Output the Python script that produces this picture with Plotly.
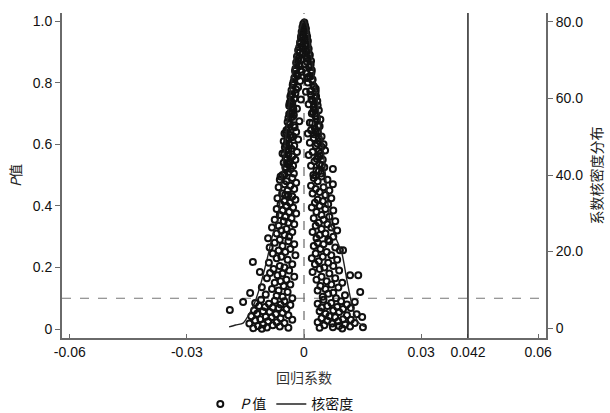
import plotly.graph_objects as go

# ---- scatter: regression coefficient vs P value ----
coef = [
    # P 0.92-1.0
    0.0001, -0.0002, 0.0003, -0.0004, 0.0005, 0.0000, -0.0006, 0.0006, -0.0003, 0.0008,
    -0.0008, 0.0002, 0.0010, -0.0010, 0.0004, -0.0005, 0.0002, -0.0001, 0.0007, -0.0007,
    # P 0.80-0.92
    -0.0012, 0.0012, -0.0015, 0.0007, -0.0003, 0.0015, -0.0018, 0.0009, -0.0008, 0.0018,
    -0.0020, 0.0003, -0.0013, 0.0013, -0.0022, 0.0020, -0.0006, 0.0006, -0.0017, 0.0016,
    -0.0025, 0.0022, -0.0010, 0.0010, -0.0016, 0.0004, -0.0009, 0.0017, -0.0021, 0.0011,
    # P 0.65-0.80
    -0.0028, 0.0024, -0.0015, 0.0030, -0.0032, 0.0005, -0.0022, 0.0018, -0.0035, 0.0028,
    -0.0008, 0.0034, -0.0030, 0.0012, -0.0038, 0.0025, -0.0018, 0.0038, -0.0033, 0.0020,
    -0.0026, 0.0032, -0.0040, 0.0042, -0.0012, 0.0015, -0.0036, 0.0036, -0.0024, 0.0028,
    -0.0030, -0.0034, -0.0028, 0.0030, 0.0026, -0.0031, 0.0023, -0.0027, -0.0037, 0.0019,
    # P 0.50-0.65 left
    -0.0045, -0.0020, -0.0050, -0.0035, -0.0028, -0.0042, -0.0015, -0.0052, -0.0038, -0.0025,
    -0.0049, -0.0032, -0.0044, -0.0018, -0.0055, -0.0040, -0.0030, -0.0047, -0.0022, -0.0036,
    -0.0052, -0.0042, -0.0028, -0.0048, -0.0034, -0.0040, -0.0026, -0.0055,
    # P 0.50-0.65 right
    0.0018, 0.0035, 0.0010, 0.0045, 0.0025, 0.0040, 0.0015, 0.0050, 0.0030, 0.0054,
    0.0022, 0.0042, 0.0012, 0.0036, 0.0048, 0.0027, 0.0040, 0.0018, 0.0052, 0.0074,
    0.0032, 0.0044, 0.0024,
    # P 0.29-0.50 left
    -0.0060, -0.0030, -0.0062, -0.0045, -0.0020, -0.0050, -0.0035, -0.0065, -0.0025, -0.0042,
    -0.0056, -0.0048, -0.0040, -0.0030, -0.0068, -0.0022, -0.0050, -0.0036, -0.0060, -0.0045,
    -0.0028, -0.0070, -0.0055, -0.0038, -0.0020, -0.0062, -0.0048, -0.0032, -0.0075, -0.0052,
    -0.0040, -0.0025, -0.0065, -0.0082, -0.0045, -0.0058, -0.0030, -0.0070, -0.0050, -0.0038,
    -0.0092, -0.0062,
    # P 0.29-0.50 right
    0.0045, 0.0025, 0.0060, 0.0035, 0.0074, 0.0018, 0.0050, 0.0030, 0.0065, 0.0040,
    0.0022, 0.0055, 0.0070, 0.0035, 0.0048, 0.0028, 0.0062, 0.0040, 0.0020, 0.0055,
    0.0075, 0.0032, 0.0045, 0.0065, 0.0025, 0.0050, 0.0080, 0.0038, 0.0060, 0.0030,
    0.0070, 0.0045, 0.0085, 0.0022, 0.0055, 0.0040, 0.0075, 0.0032, 0.0062,
    # P 0.10-0.29 left
    -0.0040, -0.0075, -0.0025, -0.0055, -0.0088, -0.0035, -0.0065, -0.0048, -0.0080, -0.0022,
    -0.0058, -0.0070, -0.0042, -0.0131, -0.0090, -0.0030, -0.0062, -0.0050, -0.0078, -0.0038,
    -0.0113, -0.0087, -0.0055, -0.0068, -0.0025, -0.0095, -0.0045, -0.0060, -0.0075, -0.0035,
    -0.0052, -0.0108, -0.0082, -0.0065, -0.0042, -0.0138, -0.0098, -0.0070, -0.0055, -0.0030,
    # P 0.10-0.29 right
    0.0065, 0.0035, 0.0050, 0.0025, 0.0080, 0.0042, 0.0100, 0.0092, 0.0058, 0.0030,
    0.0070, 0.0048, 0.0020, 0.0085, 0.0038, 0.0062, 0.0028, 0.0075, 0.0052, 0.0040,
    0.0090, 0.0022, 0.0065, 0.0118, 0.0139, 0.0045, 0.0080, 0.0032, 0.0058, 0.0098,
    0.0070, 0.0042, 0.0088, 0.0055, 0.0035, 0.0144, 0.0075, 0.0062, 0.0105, 0.0048,
    0.0082,
    # P 0.00-0.10 left
    -0.0156, -0.0110, -0.0075, -0.0050, -0.0125, -0.0090, -0.0060, -0.0035, -0.0115, -0.0100,
    -0.0080, -0.0065, -0.0045, -0.0190, -0.0128, -0.0105, -0.0088, -0.0055, -0.0120, -0.0072,
    -0.0040, -0.0135, -0.0098, -0.0083, -0.0060, -0.0112, -0.0030, -0.0125, -0.0092, -0.0070,
    -0.0050, -0.0140, -0.0105, -0.0080, -0.0118, -0.0062, -0.0095, -0.0040, -0.0130, -0.0108,
    # P 0.00-0.10 right
    0.0050, 0.0130, 0.0095, 0.0070, 0.0035, 0.0110, 0.0060, 0.0085, 0.0045, 0.0120,
    0.0100, 0.0075, 0.0040, 0.0090, 0.0055, 0.0135, 0.0110, 0.0065, 0.0149, 0.0080,
    0.0045, 0.0100, 0.0120, 0.0060, 0.0088, 0.0035, 0.0130, 0.0072, 0.0105, 0.0052,
    0.0090, 0.0118, 0.0074, 0.0151, 0.0040, 0.0098,
]

p_value = [
    # P 0.92-1.0
    0.995, 0.990, 0.985, 0.980, 0.975, 0.970, 0.965, 0.960, 0.955, 0.950,
    0.945, 0.940, 0.935, 0.930, 0.925, 0.920, 0.978, 0.962, 0.942, 0.952,
    # P 0.80-0.92
    0.915, 0.910, 0.905, 0.900, 0.895, 0.890, 0.885, 0.880, 0.875, 0.870,
    0.865, 0.860, 0.855, 0.850, 0.845, 0.840, 0.835, 0.830, 0.825, 0.820,
    0.815, 0.810, 0.805, 0.800, 0.872, 0.888, 0.842, 0.858, 0.828, 0.818,
    # P 0.65-0.80
    0.795, 0.790, 0.785, 0.780, 0.775, 0.770, 0.765, 0.760, 0.755, 0.750,
    0.745, 0.740, 0.735, 0.730, 0.725, 0.720, 0.715, 0.710, 0.705, 0.700,
    0.695, 0.690, 0.685, 0.680, 0.675, 0.670, 0.665, 0.660, 0.655, 0.650,
    0.760, 0.740, 0.720, 0.770, 0.730, 0.700, 0.705, 0.712, 0.732, 0.745,
    # P 0.50-0.65 left
    0.645, 0.640, 0.635, 0.630, 0.625, 0.620, 0.615, 0.610, 0.600, 0.595,
    0.590, 0.585, 0.580, 0.575, 0.570, 0.565, 0.560, 0.555, 0.550, 0.545,
    0.540, 0.535, 0.530, 0.525, 0.520, 0.510, 0.505, 0.500,
    # P 0.50-0.65 right
    0.645, 0.640, 0.635, 0.625, 0.620, 0.610, 0.605, 0.600, 0.595, 0.580,
    0.575, 0.570, 0.565, 0.560, 0.550, 0.545, 0.535, 0.530, 0.525, 0.520,
    0.515, 0.505, 0.500,
    # P 0.29-0.50 left
    0.495, 0.490, 0.485, 0.480, 0.475, 0.470, 0.465, 0.460, 0.455, 0.450,
    0.440, 0.435, 0.435, 0.430, 0.425, 0.420, 0.415, 0.410, 0.405, 0.400,
    0.395, 0.390, 0.385, 0.380, 0.375, 0.370, 0.365, 0.360, 0.355, 0.350,
    0.345, 0.340, 0.335, 0.330, 0.325, 0.320, 0.315, 0.310, 0.305, 0.300,
    0.295, 0.290,
    # P 0.29-0.50 right
    0.495, 0.490, 0.485, 0.480, 0.470, 0.465, 0.460, 0.455, 0.450, 0.445,
    0.440, 0.435, 0.425, 0.420, 0.415, 0.410, 0.405, 0.400, 0.395, 0.390,
    0.385, 0.380, 0.370, 0.365, 0.360, 0.355, 0.350, 0.345, 0.340, 0.335,
    0.330, 0.325, 0.320, 0.315, 0.310, 0.305, 0.300, 0.295, 0.290,
    # P 0.10-0.29 left
    0.285, 0.280, 0.275, 0.270, 0.265, 0.260, 0.255, 0.250, 0.245, 0.240,
    0.235, 0.230, 0.225, 0.218, 0.215, 0.210, 0.205, 0.200, 0.195, 0.190,
    0.185, 0.182, 0.180, 0.175, 0.170, 0.165, 0.160, 0.155, 0.150, 0.145,
    0.140, 0.136, 0.130, 0.125, 0.120, 0.117, 0.112, 0.108, 0.105, 0.100,
    # P 0.10-0.29 right
    0.285, 0.280, 0.275, 0.270, 0.265, 0.260, 0.256, 0.256, 0.250, 0.245,
    0.240, 0.235, 0.230, 0.225, 0.220, 0.215, 0.210, 0.205, 0.200, 0.195,
    0.190, 0.185, 0.180, 0.175, 0.175, 0.170, 0.165, 0.160, 0.155, 0.150,
    0.145, 0.140, 0.135, 0.130, 0.125, 0.120, 0.118, 0.115, 0.110, 0.105,
    0.100,
    # P 0.00-0.10 left
    0.088, 0.095, 0.092, 0.090, 0.085, 0.082, 0.080, 0.078, 0.075, 0.072,
    0.070, 0.068, 0.065, 0.062, 0.060, 0.058, 0.055, 0.052, 0.050, 0.048,
    0.045, 0.042, 0.040, 0.038, 0.035, 0.032, 0.030, 0.028, 0.025, 0.022,
    0.020, 0.018, 0.015, 0.012, 0.010, 0.008, 0.005, 0.004, 0.003, 0.001,
    # P 0.00-0.10 right
    0.095, 0.088, 0.090, 0.085, 0.082, 0.080, 0.075, 0.072, 0.070, 0.068,
    0.065, 0.060, 0.058, 0.055, 0.050, 0.048, 0.045, 0.042, 0.039, 0.038,
    0.035, 0.032, 0.030, 0.027, 0.025, 0.022, 0.020, 0.018, 0.015, 0.012,
    0.010, 0.008, 0.006, 0.006, 0.004, 0.002,
]

# dense core of the funnel (upper part, heavily overlapping points)
coef_core = [
    -0.0009, 0.0009, -0.0004, 0.0005, -0.0011, 0.0013,
    -0.0014, 0.0008, -0.0019, 0.0014, -0.0023, 0.0019, -0.0016, 0.0021, -0.0027, 0.0008,
    -0.0029, 0.0026, -0.0020, 0.0016, -0.0033, 0.0031, -0.0025, 0.0022, -0.0036, 0.0035,
    -0.0029, 0.0027, -0.0034,
    -0.0038, 0.0029, -0.0030, 0.0033, -0.0042, 0.0021, -0.0026, 0.0040, -0.0040, 0.0030,
    -0.0046, 0.0026, -0.0033, 0.0038, -0.0043, 0.0034,
    -0.0046, 0.0045, -0.0040, 0.0038, -0.0050, 0.0042, -0.0044, 0.0033, -0.0038, 0.0046,
    -0.0045, 0.0038, -0.0050, 0.0030,
]
p_core = [
    0.928, 0.922, 0.912, 0.906, 0.898, 0.893,
    0.878, 0.868, 0.862, 0.852, 0.838, 0.832, 0.822, 0.808, 0.802, 0.815,
    0.792, 0.786, 0.778, 0.772, 0.762, 0.756, 0.748, 0.742, 0.736, 0.726,
    0.718, 0.712, 0.702,
    0.698, 0.692, 0.688, 0.682, 0.672, 0.668, 0.662, 0.658, 0.652, 0.642,
    0.638, 0.632, 0.622, 0.618, 0.612, 0.602,
    0.598, 0.592, 0.582, 0.578, 0.568, 0.562, 0.552, 0.552, 0.538, 0.532,
    0.522, 0.512, 0.502, 0.498,
]

# ---- kernel density of coefficients ----
density_x = [-0.0192, -0.0175, -0.0156, -0.0131, -0.0113, -0.0095, -0.0079, -0.0067,
             -0.0056, -0.0044, -0.0031, -0.0018, -0.0008, 0.0000, 0.0008, 0.0020,
             0.0041, 0.0054, 0.0067, 0.0082, 0.0097, 0.0110, 0.0123, 0.0138, 0.0156]
density_y = [0.3, 0.8, 1.3, 5.5, 10.7, 17.8, 24.8, 28.2,
             40.0, 53.0, 65.0, 74.5, 79.0, 80.8, 79.0, 70.0,
             54.0, 41.0, 27.7, 23.5, 19.6, 12.5, 6.0, 1.6, 0.3]

x_ticks = [-0.06, -0.03, 0, 0.03, 0.042, 0.06]
x_tick_labels = ["-0.06", "-0.03", "0", "0.03", "0.042", "0.06"]
p_ticks = [0, 0.2, 0.4, 0.6, 0.8, 1.0]
p_tick_labels = ["0", "0.2", "0.4", "0.6", "0.8", "1.0"]
d_ticks = [0, 20, 40, 60, 80]
d_tick_labels = ["0", "20.0", "40.0", "60.0", "80.0"]
p_threshold = 0.1
coef_ref = 0.042

assert len(coef) == len(p_value) and len(coef_core) == len(p_core)

CJK = "Noto Sans CJK SC"
NUM = "Liberation Sans, Arial"
AX = "#6a6a6a"

fig = go.Figure()

fig.add_trace(go.Scatter(
    x=coef + coef_core, y=p_value + p_core, mode="markers", name="<i>P</i> 值",
    marker=dict(symbol="circle-open", size=6, color="#111111", line=dict(width=2)),
    yaxis="y",
))
fig.add_trace(go.Scatter(
    x=density_x, y=density_y, mode="lines", name="核密度",
    line=dict(color="#222222", width=1.4, shape="spline", smoothing=0.6),
    yaxis="y2",
))

# reference lines
fig.add_shape(type="line", xref="x", yref="paper", x0=0, x1=0, y0=0, y1=1,
              line=dict(color="#888888", width=1.5, dash="dash"), layer="below")
fig.add_shape(type="line", xref="paper", yref="y", x0=0, x1=1, y0=p_threshold, y1=p_threshold,
              line=dict(color="#777777", width=1.2, dash="dash"), layer="below")
fig.add_shape(type="line", xref="x", yref="paper", x0=coef_ref, x1=coef_ref, y0=0, y1=1,
              line=dict(color="#333333", width=1.6))

fig.update_layout(
    width=610, height=413,
    margin=dict(l=62, r=64, t=13, b=75, autoexpand=False),
    paper_bgcolor="white", plot_bgcolor="white",
    font=dict(family=NUM, size=14, color="#111111"),
    showlegend=True,
    legend=dict(orientation="h", x=0.45, xanchor="center", y=-0.155, yanchor="top",
                font=dict(family=CJK, size=14, color="#111111"),
                itemwidth=30, tracegroupgap=0),
    xaxis=dict(
        range=[-0.062, 0.062], tickvals=x_ticks, ticktext=x_tick_labels,
        showgrid=False, zeroline=False, showline=True, linecolor=AX, linewidth=2,
        ticks="inside", ticklen=4, tickcolor=AX, tickwidth=1,
        tickfont=dict(family=NUM, size=14, color="#111111"),
        title=dict(text="回归系数", font=dict(family=CJK, size=14, color="#333333"), standoff=14),
    ),
    yaxis=dict(
        range=[-0.029, 1.026], tickvals=p_ticks, ticktext=p_tick_labels,
        showgrid=False, zeroline=False, showline=True, linecolor=AX, linewidth=2,
        ticks="outside", ticklen=5, tickcolor=AX, tickwidth=1,
        tickfont=dict(family=NUM, size=14, color="#111111"),
        title=dict(text="<i>P</i>值", font=dict(family=CJK, size=14, color="#222222"), standoff=8),
    ),
    yaxis2=dict(
        range=[-2.6, 82.35], tickvals=d_ticks, ticktext=d_tick_labels,
        overlaying="y", side="right", anchor="x",
        showgrid=False, zeroline=False, showline=True, linecolor=AX, linewidth=2,
        ticks="outside", ticklen=5, tickcolor=AX, tickwidth=1,
        tickfont=dict(family=NUM, size=14, color="#111111"),
        title=dict(text="系数核密度分布", font=dict(family=CJK, size=14, color="#222222"), standoff=10),
    ),
)

fig.write_html("out.html", config={"displayModeBar": False},
               post_script="document.body.style.margin='0px';document.body.style.overflow='hidden';")
